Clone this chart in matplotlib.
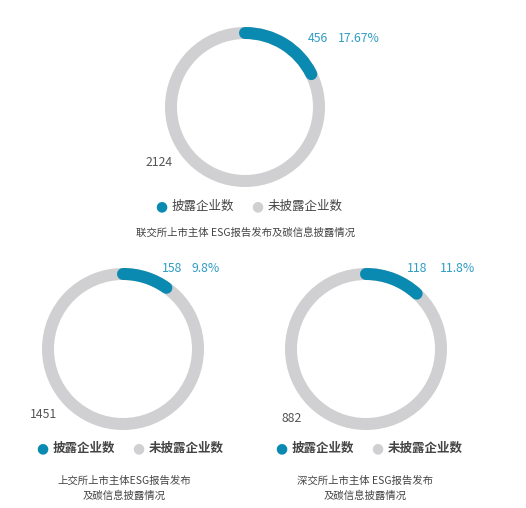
import matplotlib.pyplot as plt
from matplotlib.patches import Arc, Circle

plt.rcParams['font.family'] = ['Noto Sans CJK SC', 'DejaVu Sans']

# data
titles = ['联交所上市主体 ESG报告发布及碳信息披露情况',
          '上交所上市主体ESG报告发布\n及碳信息披露情况',
          '深交所上市主体 ESG报告发布\n及碳信息披露情况']
disclosed = [456, 158, 118]
not_disclosed = [2124, 1451, 882]
pct_labels = ['17.67%', '9.8%', '11.8%']
legend_labels = ['披露企业数', '未披露企业数']

BLUE = '#0a8ab0'
GREY = '#d0d0d2'
W, H = 526, 508

fig = plt.figure(figsize=(W / 100, H / 100), dpi=100)

# pixel layout (from top-left): donut centre / radius, labels, legend, title
donuts = [(245, 107, 80), (123, 349, 81), (366, 349, 81)]
value_pos = [(308, 39, 30), (162, 268, 30), (407, 268, 33)]
rest_pos = [(146, 162), (30, 415), (282, 418)]
legend_pos = [(161, 206), (42, 448), (281, 448)]
title_pos = [(246, 233), (124, 488), (365, 488)]
ring_px = 12


def fx(x):
    return x / W


def fy(y):
    return 1 - y / H


for i, (cx, cy, r) in enumerate(donuts):
    ax = fig.add_axes([fx(cx - r), fy(cy + r), 2 * r / W, 2 * r / H])
    ax.set_xlim(-1, 1)
    ax.set_ylim(-1, 1)
    ax.axis('off')
    mid = 1 - (ring_px / 2) / r
    lw = ring_px * 0.72
    ax.add_patch(Circle((0, 0), mid, fill=False, ec=GREY, lw=lw))
    share = disclosed[i] / (disclosed[i] + not_disclosed[i])
    arc = Arc((0, 0), 2 * mid, 2 * mid, theta1=90 - 360 * share, theta2=90,
              color=BLUE, lw=lw)
    arc.set_capstyle('round')
    ax.add_patch(arc)

    # value labels
    vx, vy, gap = value_pos[i]
    fig.text(fx(vx), fy(vy), str(disclosed[i]), color='#2f9cc4',
             fontsize=8.8, ha='left', va='center')
    fig.text(fx(vx + gap), fy(vy), pct_labels[i], color='#2f9cc4',
             fontsize=8.8, ha='left', va='center')
    rx, ry = rest_pos[i]
    fig.text(fx(rx), fy(ry), str(not_disclosed[i]), color='#555555',
             fontsize=8.8, ha='left', va='center')

    # legend
    bold = 'bold' if i > 0 else 'normal'
    lx, ly = legend_pos[i]
    fig.text(fx(lx), fy(ly), '●', color=BLUE, fontsize=10,
             ha='center', va='center', family='DejaVu Sans')
    fig.text(fx(lx + 11), fy(ly), legend_labels[0], color='#444444',
             fontsize=9, ha='left', va='center', fontweight=bold)
    fig.text(fx(lx + 96), fy(ly), '●', color=GREY, fontsize=10,
             ha='center', va='center', family='DejaVu Sans')
    fig.text(fx(lx + 107), fy(ly), legend_labels[1], color='#444444',
             fontsize=9, ha='left', va='center', fontweight=bold)

    # title
    tx, ty = title_pos[i]
    fig.text(fx(tx), fy(ty), titles[i], color='#444444', fontsize=7.5,
             ha='center', va='center', linespacing=1.55)

fig.savefig('out.png', dpi=100, facecolor='white')
